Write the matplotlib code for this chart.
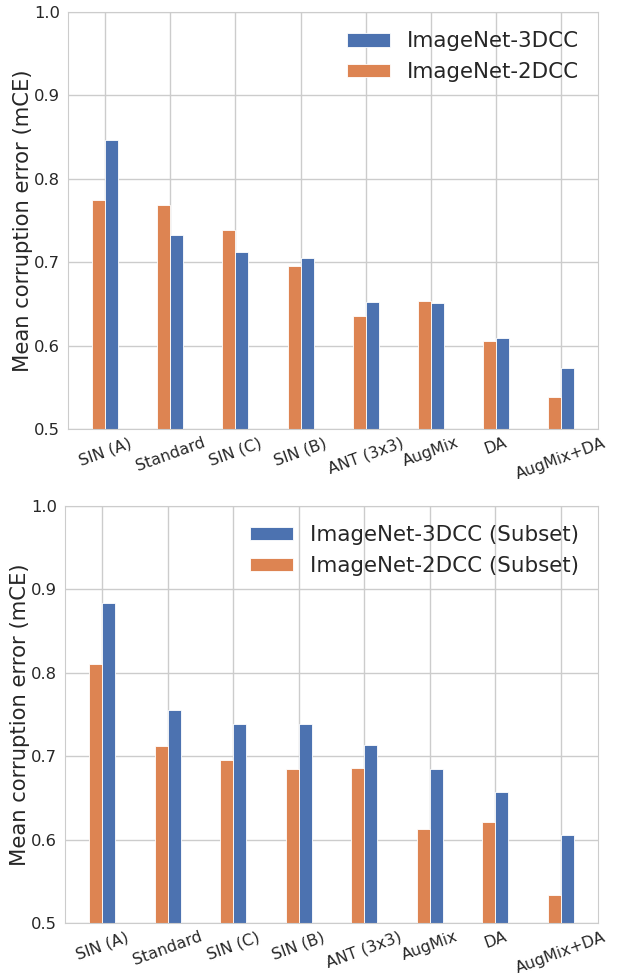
import matplotlib
matplotlib.use("Agg")
import matplotlib.pyplot as plt
import numpy as np
import seaborn as sns

sns.set_style("whitegrid")
plt.rcParams['font.family'] = ['DejaVu Sans']

categories = ["SIN (A)", "Standard", "SIN (C)", "SIN (B)", "ANT (3x3)", "AugMix", "DA", "AugMix+DA"]

top_3dcc = [0.846, 0.733, 0.712, 0.705, 0.652, 0.651, 0.609, 0.573]
top_2dcc = [0.774, 0.768, 0.739, 0.695, 0.636, 0.654, 0.606, 0.538]

bot_3dcc = [0.884, 0.755, 0.739, 0.739, 0.714, 0.685, 0.657, 0.605]
bot_2dcc = [0.810, 0.712, 0.696, 0.685, 0.686, 0.613, 0.621, 0.534]

yticks = [0.5, 0.6, 0.7, 0.8, 0.9, 1.0]

BLUE = "#4C72B0"
ORANGE = "#DD8452"

fig = plt.figure(figsize=(6.18, 9.76), dpi=100)
ax1 = fig.add_axes([0.110, 0.5605, 0.858, 0.4272])
ax2 = fig.add_axes([0.105, 0.0543, 0.863, 0.4273])

def draw(ax, v3, v2, lab3, lab2):
    x = np.arange(len(categories))
    w = 0.2
    ax.bar(x + w / 2, np.array(v3) - 0.5, w, bottom=0.5, color=BLUE, edgecolor="white",
           linewidth=0.6, label=lab3)
    ax.bar(x - w / 2, np.array(v2) - 0.5, w, bottom=0.5, color=ORANGE, edgecolor="white",
           linewidth=0.6, label=lab2)
    ax.set_ylim(0.5, 1.0)
    ax.set_yticks(yticks)
    ax.set_yticklabels([f"{t:.1f}" for t in yticks])
    ax.set_xticks(x)
    ax.set_xticklabels(categories, rotation=20, ha="center")
    ax.tick_params(axis="y", labelsize=11.8, colors="#262626", pad=2)
    ax.tick_params(axis="x", labelsize=11.4, colors="#262626", pad=1)
    ax.set_ylabel("Mean corruption error (mCE)", fontsize=15.2, color="#262626", labelpad=1)
    for s in ax.spines.values():
        s.set_color("#cccccc")
    ax.grid(True, color="#cccccc", linewidth=1)
    ax.set_axisbelow(True)
    ax.legend(loc="upper right", fontsize=15.4, frameon=False, handlelength=2.0,
              handleheight=0.6, borderaxespad=0.5, labelspacing=0.5)

draw(ax1, top_3dcc, top_2dcc, "ImageNet-3DCC", "ImageNet-2DCC")
draw(ax2, bot_3dcc, bot_2dcc, "ImageNet-3DCC (Subset)", "ImageNet-2DCC (Subset)")

fig.savefig("out.png", dpi=100)
